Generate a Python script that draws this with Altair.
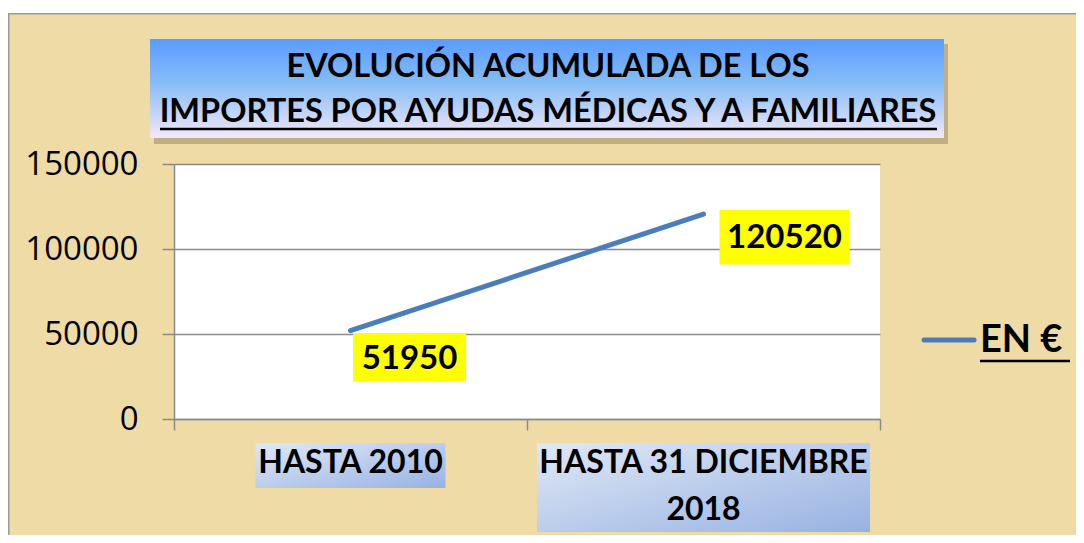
import altair as alt
import pandas as pd

# ---- data ----
categories = ["HASTA 2010", "HASTA 31 DICIEMBRE 2018"]
x_labels = ["HASTA 2010", "HASTA 31 DICIEMBRE|2018"]
values = [51950, 120520]
series_name = "EN €"
title_lines = ["EVOLUCIÓN ACUMULADA DE LOS", "IMPORTES POR AYUDAS MÉDICAS Y A FAMILIARES"]
y_ticks = [0, 50000, 100000, 150000]

df = pd.DataFrame({"cat": categories, "value": values, "label": x_labels})
one = pd.DataFrame({"k": [0]})

W, H = 706, 255
PAD_L, PAD_T = 166, 156
BOLD_FONT = "Lato"

xscale = alt.Scale(type="band", domain=categories, paddingInner=0, paddingOuter=0)
yscale = alt.Scale(domain=[0, 150000], nice=False)

X = alt.X("cat:N", scale=xscale, bandPosition=0.5,
          axis=alt.Axis(title=None, labels=False, tickBand="extent", tickSize=11,
                        tickColor="#8a8a8a", domainColor="#8a8a8a", tickWidth=1.5,
                        domainWidth=1.5, grid=False))
Y = alt.Y("value:Q", scale=yscale,
          axis=alt.Axis(title=None, values=y_ticks, format="d", labelFont="Open Sans",
                        labelFontSize=33, labelColor="black", labelPadding=24,
                        tickSize=12, tickColor="#8a8a8a", tickWidth=1.5,
                        domainColor="#8a8a8a", domainWidth=1.5,
                        grid=True, gridColor="#8a8a8a", gridWidth=1.5))

base = alt.Chart(df)

# decorations: white strip above the frame and frame lines
top_strip = alt.Chart(one).mark_rect(fill="white").encode(
    x=alt.value(-PAD_L), x2=alt.value(W + 200), y=alt.value(-PAD_T), y2=alt.value(-PAD_T + 5))
frame_left = alt.Chart(one).mark_rule(color="#9a9a9a", strokeWidth=1.5).encode(
    x=alt.value(-PAD_L + 0.75), y=alt.value(-PAD_T + 5), y2=alt.value(H + 130))
frame_top = alt.Chart(one).mark_rule(color="#9a9a9a", strokeWidth=1.5).encode(
    x=alt.value(-PAD_L), x2=alt.value(W + 200), y=alt.value(-PAD_T + 5.75))

# title box
title_grad = alt.Gradient(
    gradient="linear", x1=0, y1=0, x2=0, y2=1,
    stops=[alt.GradientStop(color="#5a9bff", offset=0),
           alt.GradientStop(color="#86bdf6", offset=0.45),
           alt.GradientStop(color="#f4e8f8", offset=1)])
title_shadow = alt.Chart(one).mark_rect(fill="#5a4a2a", opacity=0.3).encode(
    x=alt.value(-20), x2=alt.value(774), y=alt.value(-120), y2=alt.value(-20))
title_box = alt.Chart(one).mark_rect(fill=title_grad).encode(
    x=alt.value(-24), x2=alt.value(770), y=alt.value(-125), y2=alt.value(-26))
title_texts = []
for line_text, ypos in zip(title_lines, [-97, -52]):
    title_texts.append(alt.Chart(pd.DataFrame({"t": [line_text]})).mark_text(
        font=BOLD_FONT, fontWeight="bold", fontSize=32.5, color="black",
        align="center", baseline="middle").encode(
        text="t:N", x=alt.value(374), y=alt.value(ypos)))
title_ul = alt.Chart(one).mark_rule(color="black", strokeWidth=2.5).encode(
    x=alt.value(-14), x2=alt.value(763), y=alt.value(-35))

# x labels with gradient boxes
lab_grad = alt.Gradient(
    gradient="linear", x1=0, y1=0, x2=1, y2=1,
    stops=[alt.GradientStop(color="#e0e8f6", offset=0),
           alt.GradientStop(color="#97b2e2", offset=1)])
lab_box1 = base.transform_filter(alt.datum.cat == categories[0]).mark_bar(
    fill=lab_grad, width=190).encode(x=X, y=alt.value(279), y2=alt.value(324))
lab_box2 = base.transform_filter(alt.datum.cat == categories[1]).mark_bar(
    fill=lab_grad, width=333).encode(x=X, y=alt.value(279), y2=alt.value(368))
lab_text = base.mark_text(
    font=BOLD_FONT, fontWeight="bold", fontSize=32, color="black",
    align="center", baseline="top", lineBreak="|", lineHeight=47).encode(
    x=X, y=alt.value(284), text="label:N")

# line
line = base.mark_line(color="#4a7ebb", strokeWidth=5, strokeCap="round").encode(x=X, y=Y)

# data labels with yellow boxes
box_path = "M-1,-0.42L1,-0.42L1,0.42L-1,0.42Z"
lab_specs = [(0, 59, 27, 113), (1, 81, 23, 130)]
data_labels = []
for i, dx, dy, w in lab_specs:
    sub = base.transform_filter(alt.datum.cat == categories[i])
    data_labels.append(sub.mark_point(shape=box_path, size=w * w, filled=True,
                                      fill="#ffff00", opacity=1, strokeWidth=0,
                                      xOffset=dx, yOffset=dy).encode(x=X, y=Y))
    data_labels.append(sub.mark_text(font=BOLD_FONT, fontWeight="bold", fontSize=33,
                                     color="black", dx=dx, dy=dy + 1,
                                     align="center", baseline="middle").encode(
        x=X, y=Y, text=alt.Text("value:Q", format="d")))

# legend
leg_line = alt.Chart(one).mark_rule(color="#4a7ebb", strokeWidth=5, strokeCap="round").encode(
    x=alt.value(750), x2=alt.value(800), y=alt.value(176))
leg_text = alt.Chart(pd.DataFrame({"s": [series_name]})).mark_text(
    font=BOLD_FONT, fontWeight="bold", fontSize=38, color="black",
    align="left", baseline="middle").encode(text="s:N", x=alt.value(806), y=alt.value(177))
leg_ul = alt.Chart(one).mark_rule(color="black", strokeWidth=2.5).encode(
    x=alt.value(806), x2=alt.value(896), y=alt.value(197))

chart = alt.layer(
    top_strip, frame_left, frame_top,
    title_shadow, title_box, *title_texts, title_ul,
    lab_box1, lab_box2, lab_text,
    line, *data_labels,
    leg_line, leg_text, leg_ul,
).properties(
    width=W, height=H,
    autosize=alt.AutoSizeParams(type="none"),
    padding={"left": PAD_L, "top": PAD_T, "right": 196, "bottom": 116},
    background="#eedba6",
).configure_view(fill="white", stroke=None)

chart.save("out.html", embed_options={"renderer": "svg", "actions": False})
